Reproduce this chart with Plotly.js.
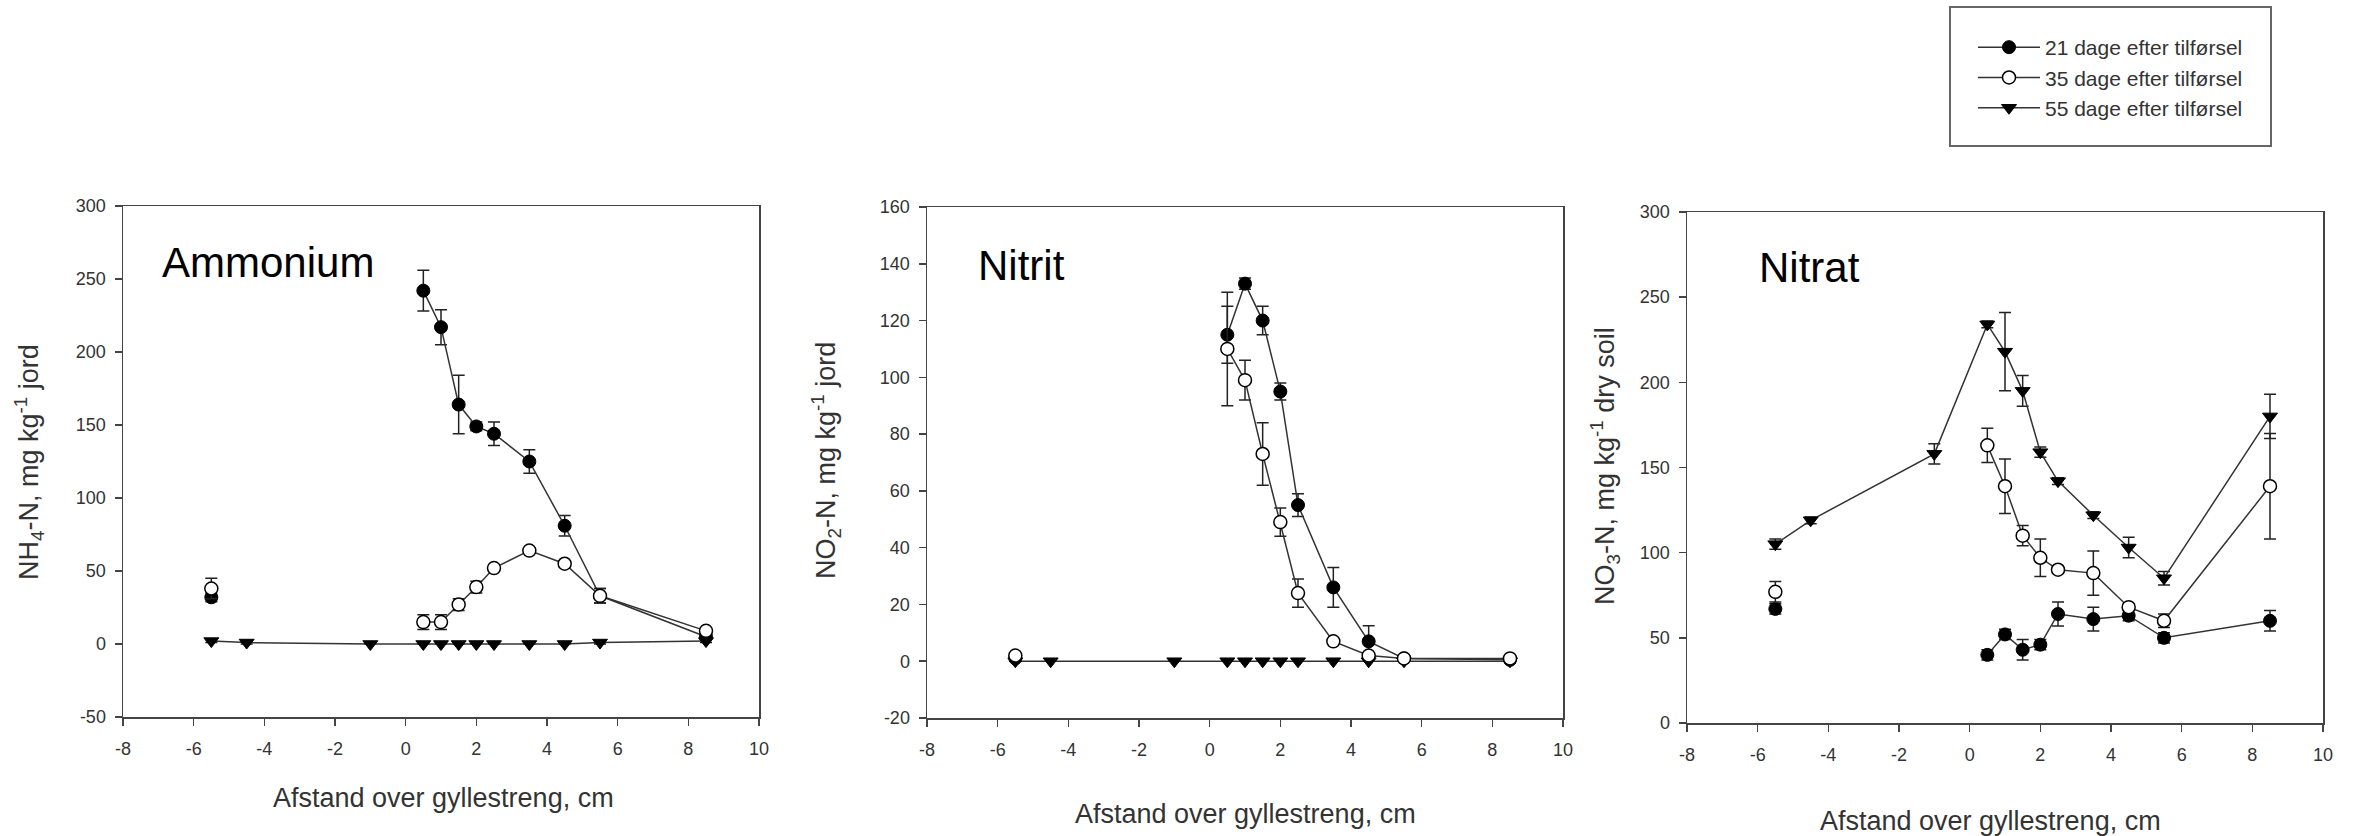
<!DOCTYPE html>
<html>
<head>
<meta charset="utf-8">
<script src="https://cdn.plot.ly/plotly-3.0.1.min.js"></script>
<style>html,body{margin:0;padding:0;background:#fff;}#chart{width:2359px;height:836px;}</style>
</head>
<body>
<div id="chart"></div>
<script>
// ---------- DATA ----------
const seriesNames = ["21 dage efter tilførsel", "35 dage efter tilførsel", "55 dage efter tilførsel"];
const panelLabels = ["Ammonium", "Nitrit", "Nitrat"];
const xTitle = "Afstand over gyllestreng, cm";
const yTitles = ["NH<sub>4</sub>-N, mg kg<sup>-1</sup> jord", "NO<sub>2</sub>-N, mg kg<sup>-1</sup> jord", "NO<sub>3</sub>-N, mg kg<sup>-1</sup> dry soil"];

const xMain = [0.5, 1, 1.5, 2, 2.5, 3.5, 4.5, 5.5, 8.5];
const x55 = [-5.5, -4.5, -1, 0.5, 1, 1.5, 2, 2.5, 3.5, 4.5, 5.5, 8.5];
const xRef = [-5.5];

// Ammonium
const nh4_21 = [242, 217, 164, 149, 144, 125, 81, 33, 5];
const nh4_21_err = [14, 12, 20, 3, 8, 8, 7, 5, 2];
const nh4_35 = [15, 15, 27, 39, 52, 64, 55, 33, 9];
const nh4_35_err = [5, 5, 4, 4, 2, 2, 2, 5, 2];
const nh4_55 = [2, 1, 0, 0, 0, 0, 0, 0, 0, 0, 1, 2];
const nh4_55_err = [1, 1, 0, 0, 0, 0, 0, 0, 0, 0, 1, 1];
const nh4_ref21 = [32], nh4_ref21_err = [3];
const nh4_ref35 = [38], nh4_ref35_err = [7];

// Nitrit
const no2_21 = [115, 133, 120, 95, 55, 26, 7, 1, 0.5];
const no2_21_err = [10, 2, 5, 3, 4, 7, 5.5, 1, 1];
const no2_35 = [110, 99, 73, 49, 24, 7, 2, 1, 1];
const no2_35_err = [20, 7, 11, 5, 5, 1, 1, 1, 1];
const no2_55 = [0, 0, 0, 0, 0, 0, 0, 0, 0, 0, 0, 0];
const no2_55_err = [0, 0, 0, 0, 0, 0, 0, 0, 0, 0, 0, 0];
const no2_ref21 = [1], no2_ref21_err = [1];
const no2_ref35 = [2], no2_ref35_err = [1];

// Nitrat
const no3_21 = [40, 52, 43, 46, 64, 61, 63, 50, 60];
const no3_21_err = [3, 3, 6, 3, 7, 7, 3, 3, 6];
const no3_35 = [163, 139, 110, 97, 90, 88, 68, 60, 139];
const no3_35_err = [10, 16, 6, 11, 2, 13, 2, 4, 31];
const no3_55 = [105, 119, 158, 234, 218, 195, 159, 142, 122, 103, 85, 180];
const no3_55_err = [3, 2, 6, 2, 23, 9, 3, 2, 2, 6, 4, 13];
const no3_ref21 = [67], no3_ref21_err = [3];
const no3_ref35 = [77], no3_ref35_err = [6];

// axis settings
const xTicks = [-8, -6, -4, -2, 0, 2, 4, 6, 8, 10];
const yTicksList = [
  [-50, 0, 50, 100, 150, 200, 250, 300],
  [-20, 0, 20, 40, 60, 80, 100, 120, 140, 160],
  [0, 50, 100, 150, 200, 250, 300]
];
const yRanges = [[-50, 300], [-20, 160], [0, 300]];
const xRange = [-8, 10];

// ---------- LAYOUT GEOMETRY (pixels) ----------
const W = 2359, H = 836;
const boxes = [
  {l: 123, r: 759, t: 206, b: 717},
  {l: 927, r: 1563, t: 207, b: 718},
  {l: 1687, r: 2323, t: 212, b: 723}
];
const px = v => v / W;
const py = v => 1 - v / H;

const FONT = "Liberation Sans, Arial, sans-serif";
const lineCol = "#333";
const errCol = "#222";

const panels = [
  {s21: nh4_21, e21: nh4_21_err, s35: nh4_35, e35: nh4_35_err, s55: nh4_55, e55: nh4_55_err, r21: nh4_ref21, re21: nh4_ref21_err, r35: nh4_ref35, re35: nh4_ref35_err},
  {s21: no2_21, e21: no2_21_err, s35: no2_35, e35: no2_35_err, s55: no2_55, e55: no2_55_err, r21: no2_ref21, re21: no2_ref21_err, r35: no2_ref35, re35: no2_ref35_err},
  {s21: no3_21, e21: no3_21_err, s35: no3_35, e35: no3_35_err, s55: no3_55, e55: no3_55_err, r21: no3_ref21, re21: no3_ref21_err, r35: no3_ref35, re35: no3_ref35_err}
];

const mk21 = {symbol: "circle", size: 13, color: "#000", line: {color: "#000", width: 1}};
const mk35 = {symbol: "circle", size: 13, color: "#fff", line: {color: "#000", width: 1.5}};
const mk55 = {symbol: "triangle-down", size: 13, color: "#000", line: {color: "#000", width: 1}};
const errStyle = arr => ({type: "data", array: arr, visible: true, color: errCol, thickness: 1.5, width: 6});

const traces = [];
panels.forEach((p, i) => {
  const xa = i === 0 ? "x" : "x" + (i + 1);
  const ya = i === 0 ? "y" : "y" + (i + 1);
  const common = {xaxis: xa, yaxis: ya, line: {color: lineCol, width: 1.5}, hoverinfo: "x+y"};
  traces.push(Object.assign({}, common, {x: x55, y: p.s55, mode: "lines+markers", marker: mk55, error_y: errStyle(p.e55), name: seriesNames[2], showlegend: false}));
  traces.push(Object.assign({}, common, {x: xMain, y: p.s21, mode: "lines+markers", marker: mk21, error_y: errStyle(p.e21), name: seriesNames[0], showlegend: false}));
  traces.push(Object.assign({}, common, {x: xMain, y: p.s35, mode: "lines+markers", marker: mk35, error_y: errStyle(p.e35), name: seriesNames[1], showlegend: false}));
  traces.push(Object.assign({}, common, {x: xRef, y: p.r21, mode: "markers", marker: mk21, error_y: errStyle(p.re21), name: seriesNames[0], showlegend: false}));
  traces.push(Object.assign({}, common, {x: xRef, y: p.r35, mode: "markers", marker: mk35, error_y: errStyle(p.re35), name: seriesNames[1], showlegend: false}));
});
// legend entries
[[mk21, 0], [mk35, 1], [mk55, 2]].forEach(([m, k]) => {
  traces.push({x: [null], y: [null], xaxis: "x", yaxis: "y", mode: "lines+markers", marker: m, line: {color: lineCol, width: 1.5}, name: seriesNames[k], showlegend: true, legendrank: k + 1});
});

const layout = {
  width: W, height: H,
  margin: {l: 0, r: 0, t: 0, b: 0, pad: 0},
  paper_bgcolor: "#fff", plot_bgcolor: "#fff",
  font: {family: FONT, size: 18, color: "#333"},
  showlegend: true,
  legend: {
    x: px(1973), y: py(27), xanchor: "left", yanchor: "top",
    bgcolor: "rgba(0,0,0,0)", borderwidth: 0,
    font: {family: FONT, size: 21, color: "#333"},
    itemwidth: 62, tracegroupgap: 0, traceorder: "normal"
  },
  shapes: [{type: "rect", xref: "paper", yref: "paper", x0: px(1950), x1: px(2271), y0: py(146), y1: py(7), line: {color: "#666", width: 2}, fillcolor: "rgba(0,0,0,0)"}],
  annotations: []
};

boxes.forEach((b, i) => {
  const sfx = i === 0 ? "" : String(i + 1);
  layout["xaxis" + sfx] = {
    domain: [px(b.l), px(b.r)], anchor: "y" + sfx, range: xRange,
    tickmode: "array", tickvals: xTicks, ticktext: xTicks.map(String),
    showline: true, linecolor: "#444", linewidth: 1.5, mirror: true,
    ticks: "outside", ticklen: 7, tickwidth: 1.5, tickcolor: "#444",
    showgrid: false, zeroline: false, ticklabelstandoff: 8,
    tickfont: {family: FONT, size: 18, color: "#333"}
  };
  layout["yaxis" + sfx] = {
    domain: [py(b.b), py(b.t)], anchor: "x" + sfx, range: yRanges[i],
    tickmode: "array", tickvals: yTicksList[i], ticktext: yTicksList[i].map(String),
    showline: true, linecolor: "#444", linewidth: 1.5, mirror: true,
    ticks: "outside", ticklen: 7, tickwidth: 1.5, tickcolor: "#444",
    showgrid: false, zeroline: false, ticklabelstandoff: 5,
    tickfont: {family: FONT, size: 18, color: "#333"}
  };
});

// axis titles & panel labels
const xTitlePos = [[443, 798], [1245, 814], [1990, 821]];
const yTitlePos = [[29, 462], [826, 461], [1605, 466]];
const labelPos = [[160, 262], [976, 265], [1757, 267]];
for (let i = 0; i < 3; i++) {
  layout.annotations.push({xref: "paper", yref: "paper", x: px(xTitlePos[i][0]), y: py(xTitlePos[i][1]), xanchor: "center", yanchor: "middle", showarrow: false, text: xTitle, font: {family: FONT, size: 27, color: "#333"}});
  layout.annotations.push({xref: "paper", yref: "paper", x: px(yTitlePos[i][0]), y: py(yTitlePos[i][1]), xanchor: "center", yanchor: "middle", showarrow: false, textangle: -90, text: yTitles[i], font: {family: FONT, size: 27, color: "#333"}});
  layout.annotations.push({xref: "paper", yref: "paper", x: px(labelPos[i][0]), y: py(labelPos[i][1]), xanchor: "left", yanchor: "middle", showarrow: false, text: panelLabels[i], font: {family: FONT, size: 42, color: "#000"}});
}

Plotly.newPlot("chart", traces, layout, {displayModeBar: false, staticPlot: true});
</script>
</body>
</html>
